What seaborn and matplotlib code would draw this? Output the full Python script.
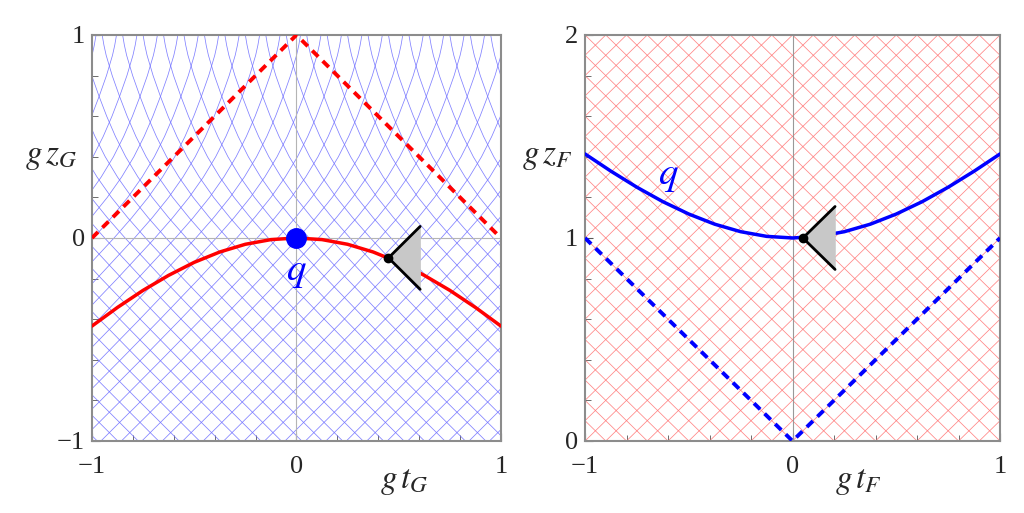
import matplotlib
matplotlib.use('Agg')

import numpy as np
import seaborn as sns
import matplotlib.pyplot as plt

# curve samples
curve_t = [-1, -0.875, -0.75, -0.625, -0.5, -0.375, -0.25, -0.125, 0,
           0.125, 0.25, 0.375, 0.5, 0.625, 0.75, 0.875, 1]
free_z_G = [-0.434, -0.342, -0.258, -0.184, -0.120, -0.069, -0.031, -0.008, 0,
            -0.008, -0.031, -0.069, -0.120, -0.184, -0.258, -0.342, -0.434]
q_z_F = [1.414, 1.329, 1.250, 1.179, 1.118, 1.068, 1.031, 1.008, 1.0,
         1.008, 1.031, 1.068, 1.118, 1.179, 1.250, 1.329, 1.414]

horizon_t = [-1, 0, 1]
horizon_z_G = [0, 1, 0]
horizon_z_F = [1, 0, 1]

# light ray shape in the G frame: horizontal drift vs height
# (about 45 deg in the lower half, nearly vertical at the top)
ray_z = [-1, -0.8, -0.6, -0.4, -0.2, 0, 0.1, 0.2, 0.3, 0.4, 0.5, 0.6,
         0.7, 0.8, 0.9, 0.95, 1.0]
ray_dt = [-0.964, -0.765, -0.568, -0.374, -0.184, 0, 0.087, 0.167, 0.237,
          0.297, 0.347, 0.390, 0.428, 0.463, 0.4925, 0.5035, 0.512]
ray_step = 0.1
ray_shift = 0.035

# events with light cones
event_G = (0.45, -0.098)
event_F = (0.05, 1.0)
cone_size = 0.155

sns.set_style("ticks")
plt.rcParams['font.family'] = 'serif'
plt.rcParams['font.serif'] = ['Liberation Serif', 'DejaVu Serif']
plt.rcParams['mathtext.fontset'] = 'stix'

fig = plt.figure(figsize=(10.24, 5.13), dpi=100)
axL = fig.add_axes([0.0898, 0.1404, 0.3994, 0.7914])
axR = fig.add_axes([0.5713, 0.1404, 0.4053, 0.7914])


def cone(ax, ev):
    t0, z0 = ev
    s = cone_size
    ax.fill([t0, t0 + s, t0 + s], [z0, z0 + s, z0 - s], color='#c8c8c8', zorder=4)
    ax.plot([t0 + s, t0, t0 + s], [z0 + s, z0, z0 - s], color='black', lw=2, zorder=5)
    ax.plot([t0], [z0], 'o', color='black', ms=6, zorder=6)


def style(ax, ylim, yticks):
    ax.set_xlim(-1, 1)
    ax.set_ylim(*ylim)
    ax.set_xticks([-1, 0, 1])
    ax.set_xticklabels(['\u22121', '0', '1'])
    ax.set_yticks(yticks)
    ax.set_yticklabels([('\u2212' + str(-v)) if v < 0 else str(v) for v in yticks])
    ax.set_xticks(np.arange(-0.8, 1.0, 0.2), minor=True)
    ax.set_yticks(np.arange(ylim[0] + 0.2, ylim[1], 0.2), minor=True)
    ax.tick_params(which='both', direction='in', color='#555555', labelsize=19)
    ax.tick_params(which='major', length=6)
    ax.tick_params(axis='x', which='major', pad=11)
    ax.tick_params(axis='y', which='major', pad=5)
    ax.tick_params(which='minor', length=4)
    for sp in ax.spines.values():
        sp.set_color('#8c8c8c')
        sp.set_linewidth(1.5)
    ax.set_xlabel('')
    ax.set_ylabel('')


# ---- left panel: G frame ----
dt = np.array(ray_dt)
for k in range(-30, 31):
    t0 = k * ray_step + ray_shift
    axL.plot(t0 - 0.027 + dt, ray_z, color='#6b6bff', lw=0.55, alpha=0.85, zorder=1)
    axL.plot(t0 + 0.027 - dt, ray_z, color='#6b6bff', lw=0.55, alpha=0.85, zorder=1)
axL.axhline(0, color='#b4b4b4', lw=0.8, zorder=1)
axL.axvline(0, color='#b4b4b4', lw=0.8, zorder=1)

sns.lineplot(x=horizon_t, y=horizon_z_G, ax=axL, color='red', lw=2.8,
             zorder=3).lines[-1].set_dashes((2.2, 1.6))
sns.lineplot(x=curve_t, y=free_z_G, ax=axL, color='red', lw=2.5, zorder=3)
axL.plot([0], [0], 'o', color='blue', ms=14, zorder=6)
axL.text(0, -0.165, '$q$', color='blue', fontsize=28, ha='center', va='center')
cone(axL, event_G)
style(axL, (-1, 1), [-1, 0, 1])
axL.text(-0.1, 0.70, '$g\\,z_G$', transform=axL.transAxes, fontsize=24,
         ha='center', va='center')
axL.text(0.765, -0.10, '$g\\,t_G$', transform=axL.transAxes, fontsize=24,
         ha='center', va='center')

# ---- right panel: F frame ----
for k in range(-30, 31):
    c = k * ray_step
    axR.plot([-1, 1], [c + 1, c - 1], color='#ff7070', lw=0.55, alpha=0.85, zorder=1)
    axR.plot([-1, 1], [c - 1, c + 1], color='#ff7070', lw=0.55, alpha=0.85, zorder=1)
axR.axvline(0, color='#999999', lw=0.8, zorder=1)

sns.lineplot(x=horizon_t, y=horizon_z_F, ax=axR, color='blue', lw=2.8,
             zorder=3).lines[-1].set_dashes((2.2, 1.6))
sns.lineplot(x=curve_t, y=q_z_F, ax=axR, color='blue', lw=2.5, zorder=3)
axR.text(-0.6, 1.31, '$q$', color='blue', fontsize=28, ha='center', va='center')
cone(axR, event_F)
style(axR, (0, 2), [0, 1, 2])
axR.text(-0.09, 0.70, '$g\\,z_F$', transform=axR.transAxes, fontsize=24,
         ha='center', va='center')
axR.text(0.658, -0.10, '$g\\,t_F$', transform=axR.transAxes, fontsize=24,
         ha='center', va='center')

fig.savefig('out.png', dpi=100)
plt.close(fig)
